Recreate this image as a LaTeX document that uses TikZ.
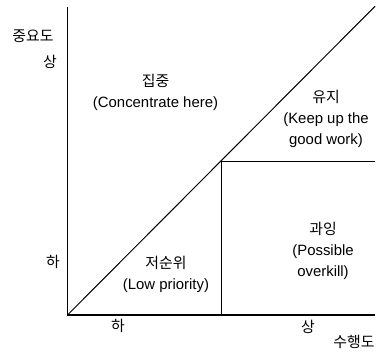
\documentclass[tikz,border=0pt]{standalone}
\usepackage{fontspec}
\setmainfont{Liberation Sans}
\newfontfamily\kor{Noto Sans CJK KR}
\usetikzlibrary{positioning}
\tikzset{
  quadlabel/.style={align=center, font=\fontsize{10.6}{14.9}\selectfont, inner sep=0pt},
  axislabel/.style={font=\kor\fontsize{10.6}{14.9}\selectfont, inner sep=0pt},
  axisline/.style={draw=black, line width=0.9pt},
  splitline/.style={draw=black, line width=0.7pt}
}

\begin{document}
\begin{tikzpicture}
  \useasboundingbox (-1.6875,-0.95) rectangle (7.7875,7.875);
  % axes and split lines
  \coordinate (o) at (0,0);
  \coordinate (ytop) at (0,7.7);
  \coordinate (xend) at (7.69,0);
  \coordinate (dtop) at (7.69,7.72);
  \coordinate (mbot) at (3.84,0);
  \coordinate (mid) at (3.84,3.85);
  \coordinate (mright) at (7.69,3.85);
  \draw[axisline] (ytop) -- (o) -- (xend);
  \draw[splitline] (o) -- (dtop);
  \draw[splitline] (mbot) -- (mid) -- (mright);
  % axis labels
  \node[axislabel] (yname) at (-0.8625,6.975) {중요도};
  \node[axislabel] (yhigh) at (-0.4375,6.325) {상};
  \node[axislabel] (ylow)  at (-0.3625,1.325) {하};
  \node[axislabel] (xlow)  at (1.2625,-0.275) {하};
  \node[axislabel] (xhigh) at (6.0125,-0.3)   {상};
  \node[axislabel] (xname) at (7.1625,-0.675) {수행도};
  % quadrants
  \node[quadlabel] (focus) at (2.2,5.56)
    {{\kor 집중}\\(Concentrate here)};
  \node[quadlabel] (keep) at (6.4625,4.9)
    {{\kor 유지}\\(Keep up the\\good work)};
  \node[quadlabel] (low) at (2.4625,1.0125)
    {{\kor 저순위}\\(Low priority)};
  \node[quadlabel] (over) at (6.3875,1.6)
    {{\kor 과잉}\\(Possible\\overkill)};
\end{tikzpicture}
\end{document}
